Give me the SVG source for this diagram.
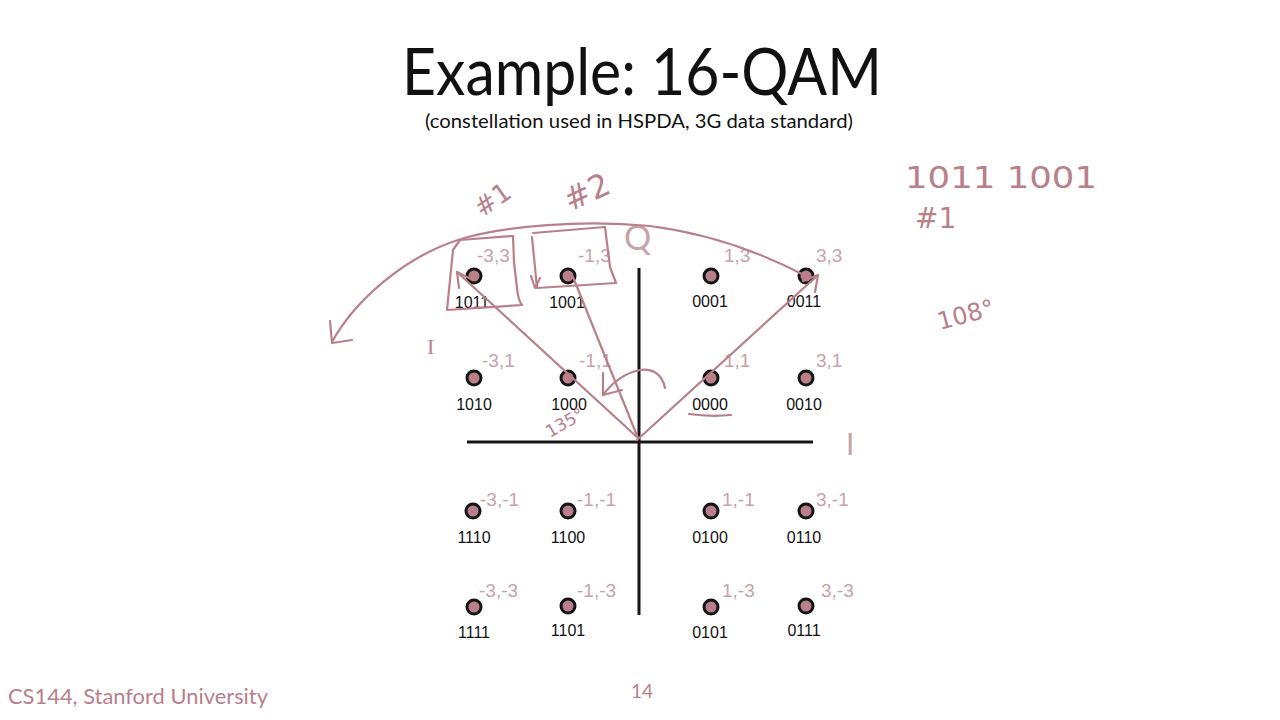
<svg xmlns="http://www.w3.org/2000/svg" width="1280" height="720" viewBox="0 0 1280 720">
<style>
  .dot { fill: #b9808a; stroke: #141414; stroke-width: 3; }
  .bin { font-family: "Liberation Sans", Arial, sans-serif; font-size: 16px; fill: #111; text-anchor: middle; }
  .crd { font-family: "Liberation Sans", Arial, sans-serif; font-size: 19px; fill: #c9a2a9; }
  .ink { fill: none; stroke: #b9808a; stroke-width: 2.2; stroke-linecap: round; stroke-linejoin: round; }
  .hand { font-family: "DejaVu Sans", sans-serif; fill: #b9808a; }
  .axis { stroke: #161616; stroke-width: 3; }
</style>
<rect width="1280" height="720" fill="#ffffff"/>

<g id="title">
  <text x="402" y="95" font-family="Lato, 'Liberation Sans', sans-serif" font-size="66" fill="#111" textLength="480" lengthAdjust="spacingAndGlyphs">Example: 16-QAM</text>
  <text x="425" y="128" font-family="Lato, 'Liberation Sans', sans-serif" font-size="20" fill="#111" textLength="428" lengthAdjust="spacingAndGlyphs">(constellation used in HSPDA, 3G data standard)</text>
</g>

<g id="axes">
  <line class="axis" x1="467" y1="442" x2="813" y2="442"/>
  <line class="axis" x1="639" y1="268" x2="639" y2="615"/>
  <text x="846" y="455" font-family="Lato, 'Liberation Sans', sans-serif" font-size="30" fill="#c9a2a9">I</text>
  <text x="624" y="250" font-family="Lato, 'Liberation Sans', sans-serif" font-size="34" fill="#c9a2a9">Q</text>
</g>

<g id="p1011"><circle class="dot" cx="474" cy="276" r="7"/><text class="bin" x="472" y="308">1011</text><text class="crd" x="477" y="262">-3,3</text></g>
<g id="p1001"><circle class="dot" cx="568" cy="276" r="7"/><text class="bin" x="567" y="308">1001</text><text class="crd" x="578" y="262">-1,3</text></g>
<g id="p0001"><circle class="dot" cx="711" cy="276" r="7"/><text class="bin" x="710" y="307">0001</text><text class="crd" x="724" y="262">1,3</text></g>
<g id="p0011"><circle class="dot" cx="806" cy="276" r="7"/><text class="bin" x="804" y="307">0011</text><text class="crd" x="816" y="262">3,3</text></g>

<g id="p1010"><circle class="dot" cx="474" cy="378" r="7"/><text class="bin" x="474" y="410">1010</text><text class="crd" x="482" y="367">-3,1</text></g>
<g id="p1000"><circle class="dot" cx="568" cy="378" r="7"/><text class="bin" x="569" y="410">1000</text><text class="crd" x="579" y="367">-1,1</text></g>
<g id="p0000"><circle class="dot" cx="711" cy="378" r="7"/><text class="bin" x="710" y="410">0000</text><text class="crd" x="724" y="367">1,1</text></g>
<g id="p0010"><circle class="dot" cx="806" cy="378" r="7"/><text class="bin" x="804" y="410">0010</text><text class="crd" x="816" y="367">3,1</text></g>

<g id="p1110"><circle class="dot" cx="473" cy="511" r="7"/><text class="bin" x="474" y="543">1110</text><text class="crd" x="480" y="506">-3,-1</text></g>
<g id="p1100"><circle class="dot" cx="568" cy="511" r="7"/><text class="bin" x="568" y="543">1100</text><text class="crd" x="577" y="506">-1,-1</text></g>
<g id="p0100"><circle class="dot" cx="711" cy="511" r="7"/><text class="bin" x="710" y="543">0100</text><text class="crd" x="722" y="506">1,-1</text></g>
<g id="p0110"><circle class="dot" cx="806" cy="511" r="7"/><text class="bin" x="804" y="543">0110</text><text class="crd" x="816" y="506">3,-1</text></g>

<g id="p1111"><circle class="dot" cx="474" cy="607" r="7"/><text class="bin" x="474" y="638">1111</text><text class="crd" x="479" y="597">-3,-3</text></g>
<g id="p1101"><circle class="dot" cx="568" cy="606" r="7"/><text class="bin" x="568" y="636">1101</text><text class="crd" x="577" y="597">-1,-3</text></g>
<g id="p0101"><circle class="dot" cx="711" cy="607" r="7"/><text class="bin" x="710" y="638">0101</text><text class="crd" x="722" y="597">1,-3</text></g>
<g id="p0111"><circle class="dot" cx="806" cy="606" r="7"/><text class="bin" x="804" y="636">0111</text><text class="crd" x="821" y="597">3,-3</text></g>

<g id="connectors">
  <!-- big rotation arc -->
  <path class="ink" d="M806,276 C760,252 705,233 650,226 C585,220 505,225 458,240 C405,257 355,300 332,342"/>
  <path class="ink" d="M330,321 L332,343 L352,340"/>
  <!-- boxes -->
  <path class="ink" d="M460,240 L513,236 L514,262 L517,288 Q518,300 522,305 L447,310 L453,250 Z"/>
  <path class="ink" d="M533,233 L605,227 L610,267 L616,283 L537,288 L532,237"/>
  <path class="ink" d="M531,276 L535,288 L540,278"/>
  <!-- vectors from origin -->
  <path class="ink" d="M638,438 L457,272"/>
  <path class="ink" d="M457,272 L459,288 M457,272 L471,279"/>
  <path class="ink" d="M638,438 L573,277"/>
  <path class="ink" d="M637,440 L818,275"/>
  <path class="ink" d="M818,275 L815,292 M818,275 L803,281"/>
  <!-- rotation arrow -->
  <path class="ink" d="M665,388 C662,373 651,368 640,370 C625,373 612,383 603,395"/>
  <path class="ink" d="M603,373 L603,395 L622,390"/>
  <!-- underline 0000 -->
  <path class="ink" d="M689,414 Q710,417 731,415"/>
</g>

<g id="annotations">
  <text class="hand" font-size="26" transform="translate(482,218) rotate(-35)">#1</text>
  <text class="hand" font-size="32" transform="translate(570,212) rotate(-25)">#2</text>
  <text class="hand" font-size="17" transform="translate(550,438) rotate(-30)">135°</text>
  <text x="427" y="354" font-family="'Liberation Serif', serif" font-size="22" fill="#b9808a">I</text>
  <text class="hand" font-size="30" x="905" y="188" textLength="192" lengthAdjust="spacingAndGlyphs">1011 1001</text>
  <text class="hand" font-size="28" x="915" y="228">#1</text>
  <text class="hand" font-size="24" transform="translate(940,330) rotate(-15)">108°</text>
</g>

<g id="footer">
  <text x="8" y="704" font-family="Lato, 'Liberation Sans', sans-serif" font-size="22" fill="#b9808a" textLength="260" lengthAdjust="spacingAndGlyphs">CS144, Stanford University</text>
  <text x="631" y="698" font-family="Lato, 'Liberation Sans', sans-serif" font-size="19" fill="#b9808a">14</text>
</g>
</svg>
